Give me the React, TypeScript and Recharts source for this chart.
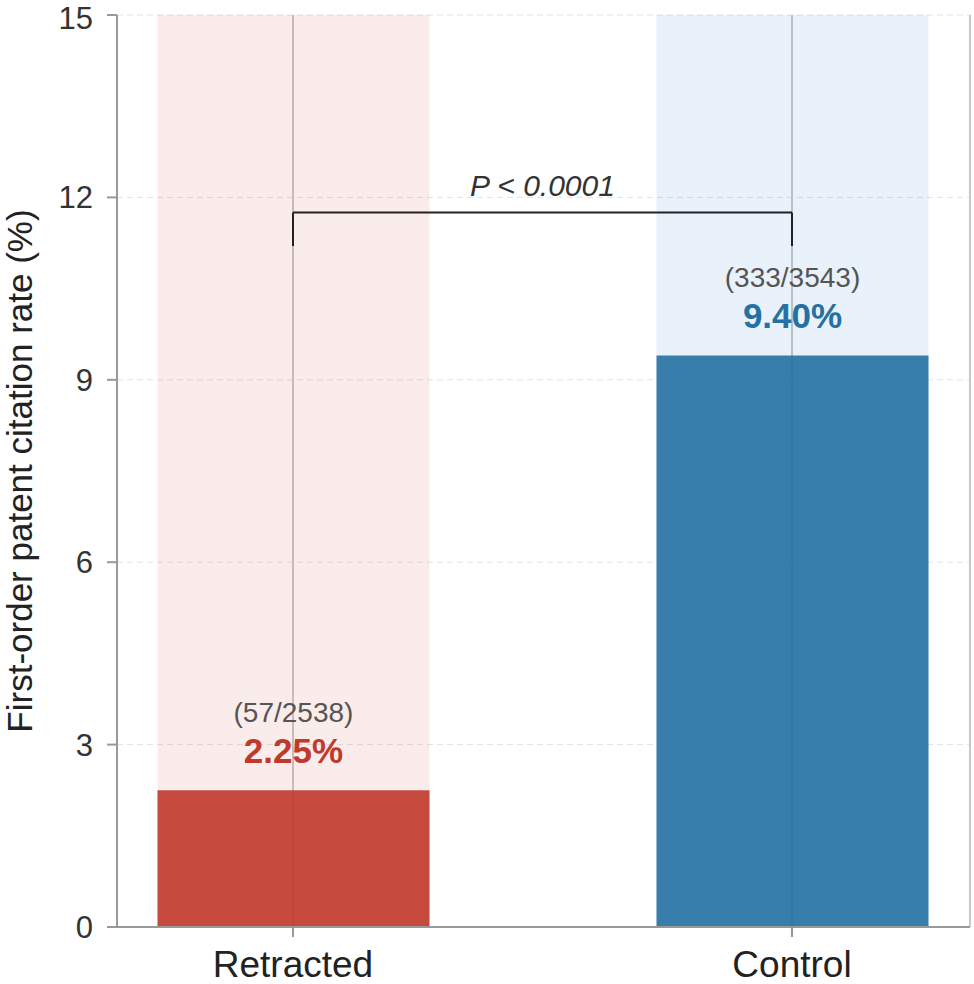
import {
  Bar,
  CartesianGrid,
  Cell,
  ComposedChart,
  LabelList,
  ReferenceLine,
  XAxis,
  YAxis,
} from "recharts";

const categories = ["Retracted", "Control"];
const rates = [2.25, 9.4];
const counts = ["(57/2538)", "(333/3543)"];
const rateLabels = ["2.25%", "9.40%"];
const yTicks = [0, 3, 6, 9, 12, 15];
const bracketY = 11.75;
const bracketFoot = 11.2;
const pLabel = "P < 0.0001";

const barColors = ["#C0392B", "#2471A3"];
const bgColors = ["rgba(214,80,70,0.11)", "rgba(52,140,210,0.11)"];
const font = "'Liberation Sans', Arial, sans-serif";

const data = categories.map((name, i) => ({ x: i, name, rate: rates[i] }));

function BarBackground(props: any) {
  const { x, y, width, height, index } = props;
  return <rect x={x} y={y} width={width} height={height} fill={bgColors[index ?? 0]} />;
}

function RateLabel(props: any) {
  const { x, y, width, index } = props;
  const cx = x + width / 2;
  return (
    <g>
      <text x={cx} y={y - 68} textAnchor="middle" fontSize={28} fill="#555" fontFamily={font}>
        {counts[index]}
      </text>
      <text
        x={cx}
        y={y - 27}
        textAnchor="middle"
        fontSize={35}
        fontWeight="bold"
        fill={barColors[index]}
        fontFamily={font}
      >
        {rateLabels[index]}
      </text>
    </g>
  );
}

export default function App() {
  return (
    <div style={{ position: "absolute", left: 0, top: 0, background: "#fff", fontFamily: font }}>
      <ComposedChart
        width={974}
        height={984}
        data={data}
        margin={{ top: 15, right: 4, left: 0, bottom: 0 }}
      >
        <CartesianGrid
          stroke="#e2e2e2"
          strokeDasharray="6 4"
          vertical={false}
        />
        <CartesianGrid stroke="#c8c8c8" strokeWidth={2} horizontal={false} />
        <XAxis
          dataKey="x"
          type="number"
          domain={[-0.3527, 1.3567]}
          ticks={[0, 1]}
          allowDataOverflow
          tickFormatter={(v) => categories[v] ?? ""}
          height={57}
          tickSize={10}
          tickMargin={14}
          stroke="#999"
          strokeWidth={2}
          tick={{ fill: "#222", fontSize: 37, fontFamily: font }}
        />
        <YAxis
          type="number"
          domain={[0, 15]}
          ticks={yTicks}
          width={117}
          tickSize={10}
          tickMargin={14}
          stroke="#999"
          strokeWidth={2}
          tick={{ fill: "#333", fontSize: 31, fontFamily: font }}
          label={{
            value: "First-order patent citation rate (%)",
            angle: -90,
            position: "insideLeft",
            offset: 20,
            style: { textAnchor: "middle", fontSize: 35, fill: "#222", fontFamily: font },
          }}
        />
        <Bar
          dataKey="rate"
          barSize={272}
          fillOpacity={0.9}
          background={<BarBackground />}
          isAnimationActive={false}
        >
          {data.map((d, i) => (
            <Cell key={d.name} fill={barColors[i]} />
          ))}
          <LabelList dataKey="rate" content={<RateLabel />} />
        </Bar>
        <ReferenceLine
          segment={[
            { x: 0, y: bracketY },
            { x: 1, y: bracketY },
          ]}
          stroke="#222"
          strokeWidth={2}
          label={{
            value: pLabel,
            position: "top",
            offset: 17,
            style: { fontSize: 30, fontStyle: "italic", fill: "#333", fontFamily: font },
          }}
        />
        <ReferenceLine
          segment={[
            { x: 0, y: bracketY },
            { x: 0, y: bracketFoot },
          ]}
          stroke="#222"
          strokeWidth={2}
        />
        <ReferenceLine
          segment={[
            { x: 1, y: bracketY },
            { x: 1, y: bracketFoot },
          ]}
          stroke="#222"
          strokeWidth={2}
        />
      </ComposedChart>
    </div>
  );
}
